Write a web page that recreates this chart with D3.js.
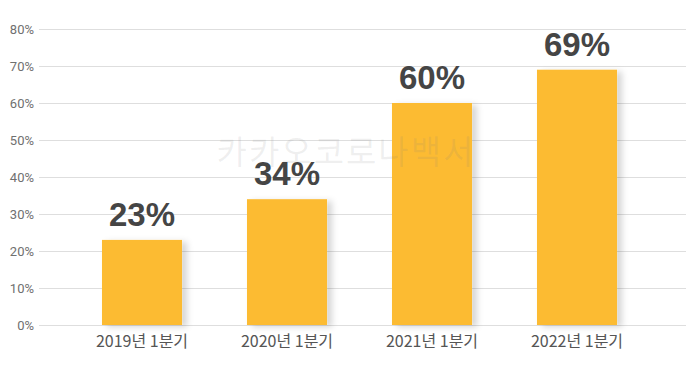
<!DOCTYPE html>
<html>
<head>
<meta charset="utf-8">
<script src="https://cdn.jsdelivr.net/npm/d3@7"></script>
<style>
  body { margin: 0; background: #fff; }
  svg { display: block; }
</style>
</head>
<body>
<div id="chart"></div>
<script>
'use strict'

var width = 700;
var height = 369;

// data
var categories = ["2019년 1분기", "2020년 1분기", "2021년 1분기", "2022년 1분기"];
var values = [23, 34, 60, 69];
var yTicks = [0, 10, 20, 30, 40, 50, 60, 70, 80];

var svg = d3.select("#chart").append("svg").attr("width", width).attr("height", height);

// soft shadow to the right of each bar
var defs = svg.append("defs");
var filter = defs.append("filter").attr("id", "barShadow")
    .attr("x", "-10%").attr("y", "-10%").attr("width", "140%").attr("height", "130%");
filter.append("feDropShadow")
    .attr("dx", 5).attr("dy", 2).attr("stdDeviation", 3)
    .attr("flood-color", "#000").attr("flood-opacity", 0.16);

var x = d3.scaleBand().domain(categories).range([69.5, 649.5])
    .paddingInner(0.448).paddingOuter(0.224);
var y = d3.scaleLinear().domain([0, 80]).range([325, 29]);

//gridlines + tick labels
var yAxis = svg.append("g").attr("transform", "translate(39,0)")
    .call(d3.axisLeft(y).tickValues(yTicks).tickSize(0).tickPadding(5)
        .tickFormat(function(d) { return d + "%"; }));
yAxis.select(".domain").remove();
yAxis.selectAll(".tick line").attr("x2", 647).attr("stroke", "#dedede").attr("stroke-width", 1);
yAxis.selectAll(".tick text")
    .attr("fill", "#707070").style("font-family", "Roboto, 'Noto Sans', sans-serif")
    .style("font-size", "13px");

svg.append("g").selectAll("rect").data(values).enter().append("rect")
    .attr("x", function(d, i) { return x(categories[i]); })
    .attr("y", function(d) { return y(d); })
    .attr("width", x.bandwidth())
    .attr("height", function(d) { return y(0) - y(d); })
    .attr("fill", "#fcbb31")
    .attr("filter", "url(#barShadow)");

// watermark, drawn over the bars
svg.append("text").attr("x", 346).attr("y", 164).attr("text-anchor", "middle")
    .attr("fill", "#808080").attr("fill-opacity", 0.13)
    .style("font-family", "'Noto Sans CJK KR', sans-serif")
    .style("font-size", "33px").style("letter-spacing", "2px")
    .text("카카오코로나백서");

svg.append("g").selectAll("text").data(values).enter().append("text")
    .attr("x", function(d, i) { return x(categories[i]) + x.bandwidth() / 2; })
    .attr("y", function(d) { return y(d) - 14; })
    .attr("text-anchor", "middle")
    .attr("fill", "#454545")
    .style("font-family", "'Liberation Sans', Arial, sans-serif")
    .style("font-weight", "bold").style("font-size", "33px")
    .text(function(d) { return d + "%"; });

var xAxis = svg.append("g").attr("transform", "translate(0,325)")
    .call(d3.axisBottom(x).tickSize(0).tickPadding(11));
xAxis.select(".domain").remove();
xAxis.selectAll(".tick text")
    .attr("fill", "#555").attr("dy", "0.71em")
    .style("font-family", "'Noto Sans CJK KR', sans-serif")
    .style("font-size", "16px");
</script>
</body>
</html>
